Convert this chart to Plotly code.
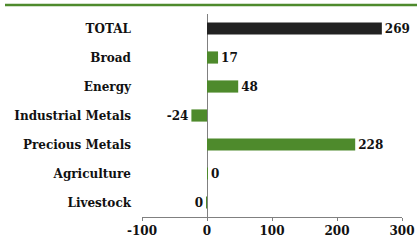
import plotly.graph_objects as go

categories = ["TOTAL", "Broad", "Energy", "Industrial Metals", "Precious Metals", "Agriculture", "Livestock"]
values = [269, 17, 48, -24, 228, 0.4, -0.4]
labels = ["269", "17", "48", "-24", "228", "0", "0"]
colors = ["#222222", "#4e8a2c", "#4e8a2c", "#4e8a2c", "#4e8a2c", "#4e8a2c", "#4e8a2c"]
tick_vals = [-100, 0, 100, 200, 300]
tick_text = ["-100", "0", "100", "200", "300"]

font_family = "DejaVu Serif"

fig = go.Figure(go.Bar(
    y=categories, x=values, orientation="h",
    marker=dict(color=colors, line=dict(width=0)),
    text=labels, textposition="outside", cliponaxis=False, constraintext="none",
    textfont=dict(family=font_family, size=12, color="#111111", weight="bold"),
))

fig.update_layout(
    width=417, height=242,
    margin=dict(l=142, r=15, t=14, b=25, autoexpand=False),
    paper_bgcolor="white", plot_bgcolor="white",
    showlegend=False, bargap=0.58,
    font=dict(family=font_family, size=12, color="#111111", weight="bold"),
    xaxis=dict(range=[-100, 300], tickvals=tick_vals, ticktext=tick_text, showgrid=False,
               showline=True, linecolor="#808080", linewidth=1,
               ticks="outside", ticklen=3, tickcolor="#808080",
               zeroline=True, zerolinecolor="#808080", zerolinewidth=1,
               automargin=False, tickfont=dict(size=12, weight="bold")),
    yaxis=dict(autorange="reversed", showgrid=False, showline=False, ticks="",
               zeroline=False, ticklabelstandoff=10, automargin=False,
               tickfont=dict(size=12, weight="bold")),
    shapes=[dict(type="line", xref="paper", yref="paper",
                 x0=-137/260, x1=(417-142)/260, y0=1 + 9/203, y1=1 + 9/203,
                 line=dict(color="#4e8a2c", width=2.5))],
)

fig.write_html("out.html", config={"displayModeBar": False},
               post_script="document.body.style.margin='0';document.body.style.overflow='hidden';")
